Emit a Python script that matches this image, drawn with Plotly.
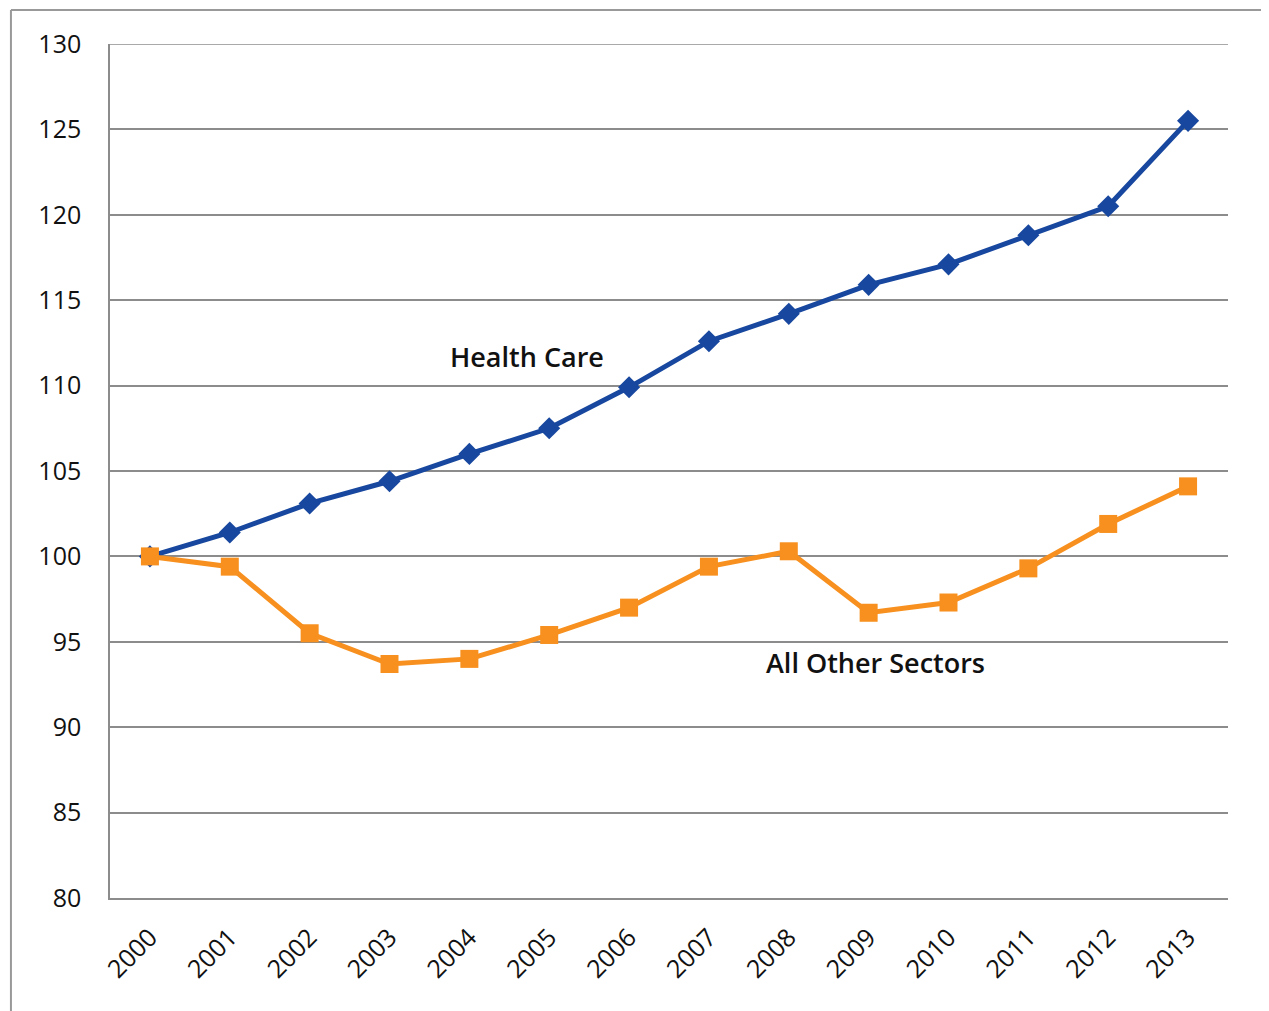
import plotly.graph_objects as go

years = ["2000", "2001", "2002", "2003", "2004", "2005", "2006",
         "2007", "2008", "2009", "2010", "2011", "2012", "2013"]
health_care = [100.0, 101.4, 103.1, 104.4, 106.0, 107.5, 109.9,
               112.6, 114.2, 115.9, 117.1, 118.8, 120.5, 125.5]
all_other = [100.0, 99.4, 95.5, 93.7, 94.0, 95.4, 97.0,
             99.4, 100.3, 96.7, 97.3, 99.3, 101.9, 104.1]
y_ticks = [80, 85, 90, 95, 100, 105, 110, 115, 120, 125, 130]

BLUE = "#17479E"
ORANGE = "#F7901E"
GRID = "#8c8c8c"
FONT = "Open Sans"

fig = go.Figure()
fig.add_trace(go.Scatter(
    x=years, y=health_care, mode="lines+markers", name="Health Care",
    line=dict(color=BLUE, width=5),
    marker=dict(symbol="diamond", size=17, color=BLUE),
))
fig.add_trace(go.Scatter(
    x=years, y=all_other, mode="lines+markers", name="All Other Sectors",
    line=dict(color=ORANGE, width=5),
    marker=dict(symbol="square", size=18, color=ORANGE),
))

fig.add_annotation(x=4.72, y=111.7, text="Health Care", showarrow=False,
                   font=dict(family=FONT, size=27, color="#111111", weight=600))
fig.add_annotation(x=9.09, y=93.8, text="All Other Sectors", showarrow=False,
                   font=dict(family=FONT, size=27, color="#111111", weight=600))

# top gridline at 130
fig.add_shape(type="line", xref="paper", yref="y", x0=0, x1=1, y0=130, y1=130,
              line=dict(color=GRID, width=1.5), layer="below")
# outer frame
fig.add_shape(type="line", xref="paper", yref="paper",
              x0=-0.0886, x1=-0.0886, y0=-0.2, y1=1.0398,
              line=dict(color="#999999", width=2))
fig.add_shape(type="line", xref="paper", yref="paper",
              x0=-0.0886, x1=1.1, y0=1.0398, y1=1.0398,
              line=dict(color="#999999", width=2))

fig.update_layout(
    width=1261, height=1003,
    margin=dict(l=102, r=41, t=36, b=113),
    paper_bgcolor="white", plot_bgcolor="white",
    showlegend=False,
    font=dict(family=FONT, size=25, color="#111111"),
    xaxis=dict(type="category", range=[-0.5, 13.5], tickangle=-45,
               showgrid=False, showline=True, linecolor=GRID, linewidth=1.5,
               ticks="", ticklabelstandoff=13, tickfont=dict(size=25)),
    yaxis=dict(range=[80, 130], tickvals=y_ticks, showgrid=True,
               gridcolor=GRID, gridwidth=1.5, showline=True, linecolor=GRID,
               linewidth=1.5, ticks="", ticklabelstandoff=22,
               zeroline=False, tickfont=dict(size=25)),
)

fig.write_html("out.html")
